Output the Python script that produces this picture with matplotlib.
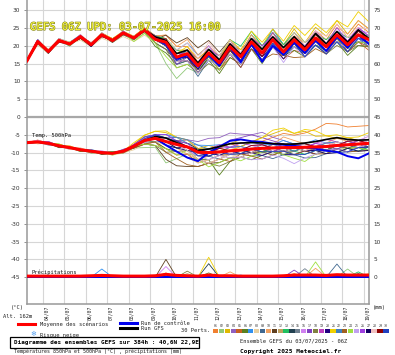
import matplotlib
matplotlib.use("Agg")
import matplotlib.pyplot as plt
import matplotlib.transforms as mtransforms
from matplotlib import patheffects as pe
from matplotlib.lines import Line2D
from matplotlib.patches import Rectangle

plt.rcParams['axes.unicode_minus'] = False

W, H = 395, 355

# ---------------- data (12-hourly steps from 03/07 06Z, 384 h) ----------------
HOURS = list(range(0, 385, 12))
DATES = ['04/07', '05/07', '06/07', '07/07', '08/07', '09/07', '10/07', '11/07',
         '12/07', '13/07', '14/07', '15/07', '16/07', '17/07', '18/07', '19/07']
DATE_HOURS = [18 + 24 * k for k in range(16)]

# Temperature 850 hPa (°C): ensemble mean
T850_MEAN = [15.8, 21.2, 18.4, 21.5, 20.5, 22.6, 20.3, 23.1, 21.5, 23.6, 22.2, 24.5,
             21.8, 21.0, 16.8, 17.8, 14.4,
             18.0, 15.2, 19.7, 16.9, 21.1, 18.0, 21.7, 18.3,
             21.7, 18.9, 22.2, 19.7, 23.1, 20.3, 23.1, 21.7]
T850_CTRL_DEV = [0, 0, 0, 0, 0, 0, 0, 0, 0, 0, 0, 0,
                 0.2, -0.5, -0.5, -0.5, -0.3,
                 -0.5, -0.7, -0.2, -1.5, -0.6, -2.5, -1.7, -0.8,
                 -0.7, -0.9, -0.7, -1.2, -0.6, -0.8, -0.1, -1.2]
T850_GFS_DEV = [0, 0, 0, 0, 0, 0, 0, 0, 0, 0, 0, 0,
                0.7, 0.5, 1, 1, 0.7,
                1, 0.8, 0.8, 0.6, 0.9, 1, 0.8, 1.2,
                0.8, 0.6, 1.3, 0.8, 0.9, 0.7, 1.4, 0.3]
T850_PERT_DEV = [
    [0, .5, 0, .5, 0, .5, 0, 0, .5, 0, .5, 0, 1, 2, 3, 2, 1, 1, 2, 1, 2, 1, 1, 2, 1, 2, 1, 2, 2, 3, 2, 3, 2],
    [0, -.5, 0, -.5, 0, 0, -.5, -.5, 0, -.5, -.5, -1, -1, -6, -6, -4, -2, -2, -1, -2, -1, -1, 0, -1, -1, -2, -1, -1, -2, -2, -1, -3, -2],
    [0, 0, .5, 0, .5, 0, .5, 0, 0, .5, 0, .5, 1, 1, 2, 1, 2, 1, 2, 2, 1, 2, 2, 3, 2, 3, 2, 3, 3, 4, 3, 4, 3],
    [0, -.5, 0, 0, -.5, 0, 0, -.5, 0, 0, -.5, 0, 0, -1, 0, -1, -2, -1, -2, -1, -2, -1, -1, 0, -1, 0, -1, -1, 0, -1, -2, -1, -2],
    [0, 0, 0, .5, 0, 0, .5, 0, 0, 0, .5, .5, 1, 1, 0, 0, -2, -1, -2, -3, -2, -2, -1, -1, -2, -3, -1, -2, -1, -1, -2, -2, -3],
    [0, -.5, -.5, 0, 0, -.5, 0, 0, -.5, 0, 0, -.5, -2, -3, -2, -2, -1, -2, -3, -3, -2, -2, -3, -2, -1, -3, -2, -2, -1, -2, -3, -3, -2],
    [0, .5, 0, 0, .5, .5, 0, .5, 0, .5, 0, 0, 1, 0, 2, 3, 3, 2, 1, 2, 1, 2, 1, 3, 2, 1, 1, 0, 1, 0, 1, -1, 0],
    [0, -1, -.5, -.5, 0, -1, -.5, -1, -.5, -1, -1, -1.5, -1, 0, -1, -2, -1, 0, -1, 0, 1, 0, 1, -1, -1, -2, 0, -1, 1, 0, 1, 0, 1],
    [0, 0, -.5, 0, -.5, 0, -.5, 0, -.5, -.5, -.5, 0, 0, -1, -2, -2, -3, -2, -1, -1, -2, -1, -2, -2, -1, -1, 0, -1, -1, 0, 1, 0, 0],
    [0, .5, .5, .5, 0, .5, 0, .5, .5, .5, 0, .5, 1, 2, 3, 4, 3, 2, 2, 1, 1, 2, 1, 1, 2, 1, 2, 2, 1, 2, 3, 4, 3],
    [0, -.5, 0, 0, 0, -.5, -.5, 0, 0, 0, 0, 0, 0, 2, 4, 4.5, 5, 3.5, 3, 2, 1, 0, -1, -1, -1, -2, -1, -1, 0, -1, 0, -2, -1],
    [0, 0, 0, -.5, 0, 0, 0, -.5, 0, 0, 0, -.5, 0, 0, 1, 1, 0, 1, 0, 1, 0, 1, 1, 0, 1, 0, -1, 0, 1, 1, 0, 1, 0],
    [0, .5, 0, .5, .5, 0, .5, 0, .5, 0, .5, 0, 1, 1, 2, 0, 1, 1, 2, 2, 3, 3, 2, 2, 2, 2, 2, 1, 2, 1, 2, 0, 1],
    [0, 0, 0, 0, -.5, 0, 0, 0, -.5, 0, 0, 0, -1, -2, -1, -1, -2, -1, 0, -1, -1, -2, -1, -1, 0, 0, 0, -1, -1, -2, -1, -1, 0],
    [0, -.5, 0, -.5, 0, -.5, 0, 0, 0, -.5, 0, -.5, 0, -1, 0, 1, 0, -1, 0, 0, -1, -1, 0, 0, 1, 1, 0, 0, 1, -1, -1, -1, 0],
    [0, .5, 0, 0, 0, .5, 0, .5, 0, 0, 0, .5, 0, 0, -1, 0, 1, 2, 1, 1, 0, 0, -1, -1, 0, 1, 1, 2, 1, 1, 0, 1, 2],
    [0, 0, .5, 0, 0, 0, .5, 0, 0, .5, 0, 0, 0, -1, -2, -1, -1, 0, -1, -2, -3, -2, -2, -1, -1, 0, -1, -2, -2, -1, -2, -2, -1],
    [0, -.5, 0, 0, 0, -.5, 0, -.5, 0, 0, -.5, 0, -1, -2, -3, -3, -2, -3, -2, -1, -1, 0, 0, 1, 0, -1, -1, -2, -2, -3, -2, -3, -2],
    [0, 0, 0, .5, 0, 0, 0, 0, .5, 0, 0, 0, 1, 0, 0, 1, 2, 1, 2, 0, 1, 1, 1, 2, 1, 0, -1, 0, 0, 1, 1, 2, 1],
    [0, 0, -.5, 0, 0, 0, -.5, 0, 0, 0, 0, 0, 0, -1, -1, -2, -1, -1, 0, -1, 0, -1, -1, -2, -2, -1, -2, -1, -1, 0, 0, -1, -1],
    [0, 0, .5, 0, .5, 0, .5, .5, .5, .5, .5, .5, 0, 1, 1, 2, 2, 1, 1, 2, 2, 3, 3, 3, 3, 4, 4, 4, 4, 4, 5, 6.5, 5],
    [0, .5, 0, 0, 0, 0, 0, .5, 0, 0, 0, 0, 0, 1, 0, 1, 0, 1, 1, 0, 0, 1, 0, -1, -1, -2, -1, -2, -1, -1, -2, -1, -2],
    [0, -.5, -.5, 0, 0, -.5, 0, 0, -.5, -.5, 0, 0, 0, -1, -1, -2, -1, -1, -2, -2, -3, -2, -2, -4, -1, -5, -2, -3, -2, -1, -2, -2, -2],
    [0, 0, 0, 0, -.5, 0, 0, 0, 0, 0, -1, -1, -1, -4, -3, -3, -1, -1, -2, -1, 0, 1, 1, 0, 1, 1, 0, 1, 0, -1, -1, -2, -1],
    [0, -.5, 0, -.5, 0, 0, 0, -.5, 0, 0, 0, 0, 0, 0, -1, -2, -2, -2, -1, -2, -2, -1, -2, -2, -3, -2, -2, -1, -1, -2, -1, -1, -1],
    [0, .5, 0, 0, 0, 0, 0, 0, 0, .5, 0, 0, 0, 0, 1, 0, -1, 0, 0, 1, 1, 1, 2, 1, 0, 0, 1, 1, 1, 2, 1, 2, 1],
    [0, 0, 0, 0, 0, 0, .5, 0, 0, 0, 0, 0, 0, 0, 0, -1, -1, 0, -1, 0, 0, 1, 0, 0, -1, -1, -1, 0, 0, 0, -1, 0, -1],
    [0, 0, .5, .5, .5, 0, .5, .5, 0, 0, .5, 0, 0, 1, 2, 3, 2, 3, 2, 2, 1, 1, 0, 1, 1, 2, 2, 2, 3, 3, 2, 2, 3],
    [0, -.5, 0, -.5, 0, -.5, 0, -.5, 0, 0, 0, -.5, 0, 1, 0, 0, 1, 0, -1, -1, -1, 0, -1, 0, 0, 1, 0, 1, 0, 0, 0, 1, 0],
    [0, 0, 0, 0, 0, 0, 0, 0, 0, 0, 0, 0, 0, -1, -1, 0, 0, -1, -1, 0, -1, -1, -2, -1, -1, -1, -2, -2, -2, -2, -2, -1, -1],
]

# Temperature 500 hPa (°C)
T500_MEAN = [-7.2, -7.0, -7.4, -8.1, -8.6, -9.2, -9.6, -10.0, -10.2, -9.6, -8.2, -6.6,
             -6.0, -6.9, -7.7, -8.4, -9.9,
             -10.0, -9.8, -9.5, -9.3, -9.0, -8.8, -8.7, -8.6,
             -8.6, -8.5, -8.4, -8.3, -8.0, -7.8, -7.6, -7.4]
T500_CTRL_DEV = [0, 0, 0, 0, 0, 0, 0, 0, 0, 0, 0, 0,
                 0, -1, -2, -3, -2.5,
                 0, 1.5, 2.8, 3, 2.2, 1.8, 1.2, 0.8,
                 0.5, 0, -0.5, -1.2, -1.8, -3.2, -4, -2.8]
T500_GFS_DEV = [0, 0, 0, 0, 0, 0, 0, 0, 0, 0, 0, 0,
                0.5, 1, 0.5, 0, 0.5,
                1, 1.5, 2, 2, 1.8, 1.5, 1.2, 1,
                1, 1.2, 1.5, 2, 2.2, 1.5, 1.1, 1]
T500_PERT_DEV = [
    [0, 0, .5, 0, 0, -.5, 0, 0, .5, 0, .5, 1, 1, 0, 1, 2, 1, 0, 1, 2, 1, 2, 2, 3, 4, 3.5, 4, 5, 6.5, 6, 5, 5, 5],
    [0, 0, 0, -.5, 0, 0, -.5, 0, 0, 0, -.5, -2, -2.5, -6, -4, -2, -1, 0, -1, -1, 0, -1, 0, -1, -1, 0, -1, -1, -2, -1, -1, 0, -1],
    [0, .5, 0, 0, .5, 0, 0, 0, 0, 0, .5, 1.5, 2, 2.5, 2, 1, 1, 2, 1, 2, 3, 2, 3, 4, 5, 4, 4.5, 3, 3, 2, 2, 1, 1],
    [0, 0, 0, 0, -.5, 0, 0, 0, 0, 0, 0, 1, 1, 2, 1, 2, 3, 4, 4, 5, 4.5, 4, 4.5, 3, 2, 1, 1, 0, 0, 1, 0, -1, 0],
    [0, -.5, 0, 0, 0, 0, 0, -.5, 0, 0, -.5, -1, -1, -2, -3, -2, -3, -2, -1, -1, 0, -1, -1, 0, 1, 0, -1, 0, 1, 0, 0, 1, 0],
    [0, 0, 0, 0, 0, -.5, 0, 0, 0, -.5, 0, 0, -1, -2, -2, -3, -2, -2, -6.5, -3, -2, -3, -2, -1, -2, -1, 0, -1, -1, 0, -1, -1, -2],
    [0, 0, .5, 0, 0, 0, .5, 0, 0, .5, 0, 1, 1, 2, 2, 1, 2, 2, 2, 1, 1, 2, 1, 1, 2, 1, 1, 2, 1, 1, 0, 1, 1],
    [0, -.5, 0, 0, -.5, 0, -.5, 0, -.5, -.5, -1, -1, -1, -1, -2, -3, -3, -2, -1, -2, -1, -1, -2, -1, 0, -1, -1, -1, 0, -1, -1, -1, 0],
    [0, 0, 0, 0, 0, 0, 0, 0, 0, 0, 0, 0, 0, 1, 0, 0, -1, -1, -2, -1, -1, -2, -2, -3, -2, -2, -3, -3, -2, -1, -2, -2, -1],
    [0, .5, 0, 0, 0, .5, 0, 0, 0, 0, 0, .5, 1, 0, -1, -2, -2, -1, 0, 1, 0, -1, -1, 1, 3, 2, 1, 0, 1, 2, 1, 0, 1],
    [0, 0, 0, -.5, 0, 0, 0, -.5, 0, 0, -.5, -1, -2, -5, -6, -5.5, -4, -3, -3, -2, -2, -1, -1, 0, 0, -1, 0, -1, -1, 0, -1, 0, -1],
    [0, 0, 0, 0, 0, 0, 0, 0, 0, 0, 0, 0, 1, 1, 0, -1, -2, -3, -2, -1, -1, -2, -1, -2, -1, -1, 0, -1, 0, 1, 0, 0, -1],
    [0, 0, 0, .5, 0, 0, 0, 0, .5, 0, 0, .5, 0, -1, -1, 0, 1, 1, 0, 0, -1, 0, -1, 0, 0, -1, -2, -1, -1, -2, -1, -2, -1],
    [0, 0, 0, 0, 0, 0, 0, 0, 0, 0, -.5, 0, 0, 0, 1, 1, 1, 0, 0, -1, 0, 0, -1, -1, 0, 1, 1, 0, -1, 0, 1, 0, 0],
    [0, 0, -.5, 0, 0, 0, 0, 0, 0, 0, 0, -.5, -1, 0, 0, -1, 0, 0, -1, 0, -1, 0, 1, 0, -1, -1, 0, 0, -1, -1, 0, -1, -2],
    [0, .5, 0, 0, 0, 0, 0, .5, 0, 0, 0, 0, 0, 1, 2, 2, 1, 1, 0, -1, 0, 1, 0, 1, 1, 0, 0, 1, 1, 0, 1, 1, 2],
    [0, 0, 0, 0, 0, 0, 0, 0, 0, 0, .5, 1, 1, 1, 0, -1, -1, 0, 1, 3, 3.5, 4, 3, 2, 1, 0, -1, -1, 0, -1, 0, 0, -1],
    [0, 0, 0, 0, 0, 0, -.5, 0, 0, 0, 0, -1, -2, -3, -2, -1, -2, -3, -4, -3, -2, -1, -1, -2, -1, 0, -1, -2, -1, 0, -1, -1, -1],
    [0, 0, .5, 0, 0, 0, 0, 0, 0, .5, 0, 0, 1, 0, 1, 0, 0, 1, 2, 1, 1, 0, 0, -1, 0, 1, 0, 1, 2, 1, 0, 1, 0],
    [0, 0, 0, 0, 0, 0, 0, 0, 0, 0, 0, 0, 0, -1, -1, 0, 1, 0, -1, 0, -1, -1, -2, -1, -2, -2, -1, -2, -1, -1, -2, -1, -1],
    [0, 0, 0, .5, 0, 0, 0, 0, 0, 0, 1, 1.5, 2, 3, 2, 2, 1, 1, 1, 0, 1, 2, 3, 5, 5.5, 4, 5, 4.5, 3, 3, 2, 2, 3],
    [0, 0, 0, 0, 0, 0, 0, 0, 0, 0, 0, 0, 1, 1, 2, 2, 2, 1, 0, 1, 1, 0, 0, 1, 0, -1, 0, 0, 1, 1, 0, 0, 1],
    [0, 0, 0, 0, 0, 0, 0, 0, 0, -.5, -.5, -1, -1, -3, -4, -5, -4, -3, -2, -3, -1, -2, -3, -2, -1, -2, -1, -2, -2, -1, -2, -2, -2],
    [0, 0, 0, 0, 0, 0, 0, 0, -.5, 0, 0, -1, -2, -2, -3, -1, -2, -4, -3, -2, -3, -2, -1, -1, -2, -3, -4, -2, -1, -2, -1, -1, -2],
    [0, 0, 0, 0, 0, 0, 0, 0, 0, 0, 0, -.5, 0, -1, 0, -1, -1, -2, -1, -2, -2, -3, -3, -2, -3, -4.5, -3, -2, -1, -1, -2, -1, 0],
    [0, 0, 0, 0, 0, 0, 0, 0, 0, 0, .5, .5, 1, 2, 1, 1, 0, 0, 1, 1, 2, 1, 1, 0, 1, 0, 0, 1, 0, 0, 1, 0, 1],
    [0, 0, 0, 0, 0, 0, 0, 0, 0, 0, 0, 0, 0, 0, -1, -1, 0, -1, 0, 0, 0, -1, 0, -1, -1, 0, -1, -1, -2, -2, -1, -2, -2],
    [0, 0, 0, 0, 0, 0, 0, 0, 0, 0, 0, .5, 0, 1, 0, -1, -2, -3, -2, -1, -2, -1, 0, -1, -1, 0, -1, 0, 0, 1, 0, 0, 1],
    [0, 0, 0, 0, 0, 0, 0, 0, 0, 0, 0, 0, 0, 0, 1, 0, 0, 0, 1, 0, 0, 1, 1, 0, 0, 1, 1, 0, 0, 0, 1, 1, 0],
    [0, 0, 0, 0, 0, 0, 0, 0, 0, 0, 0, .5, 1, 1, 1, 0, -1, -1, 0, -1, -1, 0, -1, -1, -1, -2, -2, -1, -1, -2, -2, -1, -1],
]

# Precipitation (mm)
PRECIP_MEAN = [0.3, 0.3, 0.3, 0.3, 0.3, 0.3, 0.4, 0.5, 0.4, 0.3, 0.3, 0.3,
               0.4, 0.8, 0.5, 0.4, 0.3,
               0.6, 0.4, 0.4, 0.3, 0.3, 0.3, 0.3, 0.4,
               0.6, 0.6, 0.6, 0.5, 0.7, 0.6, 0.6, 0.6]
PRECIP_CTRL = [0] * 33
# (member number, 12-h step, mm) for non-zero member precipitation
PRECIP_PERT_EVENTS = [(7, 7, 2.3), (28, 7, 0.8), (11, 13, 5.0), (16, 13, 3.0), (1, 13, 1.2),
                      (19, 13, 0.8), (18, 15, 1.7), (12, 15, 1.0), (21, 17, 5.6), (14, 17, 3.8),
                      (6, 17, 1.2), (10, 19, 1.5), (7, 20, 0.6), (9, 22, 0.5), (17, 25, 2.0),
                      (1, 25, 1.0), (15, 26, 2.4), (24, 27, 4.3), (10, 27, 2.5), (9, 29, 3.7),
                      (2, 30, 2.3), (13, 31, 1.5), (14, 31, 1.0), (24, 32, 1.0)]

PERT_COLORS = ['#f08030', '#90c878', '#e0b800', '#9060c0', '#c86020', '#5a8020',
               '#3090f0', '#e8d0a0', '#406890', '#f0a060', '#604020', '#c0a060',
               '#20c060', '#204050', '#708090', '#d080f0', '#8040c0', '#808040',
               '#c040c0', '#200080', '#f0d000', '#4080c0', '#a06020', '#a0e040',
               '#c0a0f0', '#a040e0', '#100060', '#f0c0c0', '#900000', '#2040c0']

# ---------------- figure ----------------
fig = plt.figure(figsize=(W / 100, H / 100), dpi=100)
fig.patch.set_facecolor('white')


def P(x, y):
    return (x / W, 1 - y / H)


YTOP = 117 / 3.56
YBOT = -187 / 3.56
ax = fig.add_axes([27 / W, 51 / H, 342 / W, 304 / H])
ax.set_xlim(0, 384)
ax.set_ylim(YBOT, YTOP)
ax2 = ax.twinx()
ax2.set_ylim(YBOT + 45, YTOP + 45)

ax.set_yticks(list(range(-45, 31, 5)))
ax.set_xticks(DATE_HOURS)
ax.set_xticklabels([])
ax.grid(True, color='#d6d6d6', lw=0.8, zorder=0)
ax.set_axisbelow(True)
ax.axhline(0, color='#a8a8a8', lw=1.6, zorder=1)
ax.tick_params(axis='y', left=True, length=2.2, width=0.6, color='#808080',
               labelsize=4.2, labelcolor='#333333', pad=2.5)
ax.tick_params(axis='x', length=0)
for s in ['left', 'right', 'bottom']:
    ax.spines[s].set_color('#999999')
    ax.spines[s].set_linewidth(1.1)
ax.spines['top'].set_visible(False)

ax2.set_yticks(list(range(0, 76, 5)))
ax2.tick_params(axis='y', right=True, length=0, labelsize=4.2, labelcolor='#333333', pad=3.5)
for s in ax2.spines.values():
    s.set_visible(False)

# 850 hPa members
for dev, col in zip(T850_PERT_DEV, PERT_COLORS):
    ax.plot(HOURS, [m + d for m, d in zip(T850_MEAN, dev)], color=col, lw=0.6, zorder=2)
ax.plot(HOURS, [m + d for m, d in zip(T850_MEAN, T850_CTRL_DEV)], color='#0000ee', lw=1.4, zorder=3)
ax.plot(HOURS, [m + d for m, d in zip(T850_MEAN, T850_GFS_DEV)], color='black', lw=1.2, zorder=3)
ax.plot(HOURS, T850_MEAN, color='#ff0000', lw=2.2, zorder=4)

# 500 hPa members
for dev, col in zip(T500_PERT_DEV, PERT_COLORS):
    ax.plot(HOURS, [m + d for m, d in zip(T500_MEAN, dev)], color=col, lw=0.6, zorder=2)
ax.plot(HOURS, [m + d for m, d in zip(T500_MEAN, T500_CTRL_DEV)], color='#0000ee', lw=1.4, zorder=3)
ax.plot(HOURS, [m + d for m, d in zip(T500_MEAN, T500_GFS_DEV)], color='black', lw=1.2, zorder=3)
ax.plot(HOURS, T500_MEAN, color='#ff0000', lw=2.2, zorder=4)

# precipitation members (on the mm scale)
precip_members = [[0.0] * len(HOURS) for _ in range(30)]
for mem, step, mm in PRECIP_PERT_EVENTS:
    precip_members[mem - 1][step] = mm
for vals, col in zip(precip_members, PERT_COLORS):
    ax2.plot(HOURS, vals, color=col, lw=0.6, zorder=2)
ax2.plot(HOURS, PRECIP_CTRL, color='#0000ee', lw=1.4, zorder=3)
ax2.plot(HOURS, PRECIP_MEAN, color='#ff0000', lw=2.2, zorder=4)

mono = 'DejaVu Sans Mono'

# date labels
trans = mtransforms.blended_transform_factory(ax.transData, ax.transAxes) + \
    mtransforms.ScaledTranslation(3.5 / 100, -1.5 / 100, fig.dpi_scale_trans)
for h, lab in zip(DATE_HOURS, DATES):
    ax.text(h, 0, lab, transform=trans, rotation=90, ha='center', va='top',
            fontsize=3.4, family=mono, color='#222222')

# in-plot labels
fig.text(*P(30, 27), 'GEFS 06Z UPD: 03-07-2025 16:00', fontsize=7.6, family=mono,
         color='#ffff40', ha='left', va='center',
         path_effects=[pe.Stroke(linewidth=0.9, foreground='#8a8a20'), pe.Normal()])
fig.text(*P(32, 136), 'Temp. 500hPa', fontsize=3.9, family=mono, color='#111111', ha='left', va='center')
fig.text(*P(32, 272), 'Précipitations', fontsize=3.9, family=mono, color='#111111', ha='left', va='center')

# axis unit labels
fig.text(*P(11, 307), '(°C)', fontsize=3.9, family=mono, color='#222222', ha='left', va='center')
fig.text(*P(3, 316), 'Alt. 162m', fontsize=3.9, family=mono, color='#222222', ha='left', va='center')
fig.text(*P(373, 308), '(mm)', fontsize=3.9, family=mono, color='#222222', ha='left', va='center')

# legend
fig.add_artist(Line2D([18 / W, 35 / W], [1 - 323.5 / H, 1 - 323.5 / H], color='#ff0000', lw=2.2))
fig.text(*P(40, 324), 'Moyenne des scénarios', fontsize=3.9, family=mono, color='#222222', ha='left', va='center')
fig.text(*P(33, 334), '❄', fontsize=5, color='#55a0f0', ha='center', va='center')
fig.text(*P(40, 335), 'Risque neige', fontsize=3.9, family=mono, color='#222222', ha='left', va='center')
fig.add_artist(Line2D([120 / W, 137 / W], [1 - 323 / H, 1 - 323 / H], color='#0000ee', lw=2.2))
fig.add_artist(Line2D([120 / W, 137 / W], [1 - 328 / H, 1 - 328 / H], color='black', lw=2.2))
fig.text(*P(141, 323.5), 'Run de contrôle', fontsize=3.9, family=mono, color='#222222', ha='left', va='center')
fig.text(*P(141, 328.5), 'Run GFS', fontsize=3.9, family=mono, color='#222222', ha='left', va='center')
fig.text(*P(181, 331), '30 Perts.', fontsize=3.9, family=mono, color='#222222', ha='left', va='center')

chip_w = 5.87
for i, col in enumerate(PERT_COLORS):
    x0 = 213 + i * chip_w
    fig.add_artist(Rectangle((x0 / W, 1 - 333 / H), (chip_w - 0.6) / W, 3.6 / H,
                             transform=fig.transFigure, facecolor=col, edgecolor='none'))
    fig.text((x0 + chip_w / 2) / W, 1 - 326 / H, '%02d' % (i + 1), fontsize=2.3, family=mono,
             color='#333333', ha='center', va='center')

# info box
fig.add_artist(Rectangle((10 / W, 1 - 348 / H), 189 / W, 11 / H, transform=fig.transFigure,
                         facecolor='white', edgecolor='black', lw=0.9))
fig.text(*P(14, 342.5), 'Diagramme des ensembles GEFS sur 384h : 40,6N 22,9E', fontsize=4.3,
         family=mono, weight='bold', color='black', ha='left', va='center')
fig.text(*P(14, 351.5), 'Températures 850hPa et 500hPa (°C) , précipitations (mm)', fontsize=3.6,
         family=mono, color='#222222', ha='left', va='center')
fig.text(*P(240, 341), 'Ensemble GEFS du 03/07/2025 - 06Z', fontsize=3.9, family=mono,
         color='#222222', ha='left', va='center')
fig.text(*P(240, 351), 'Copyright 2025 Meteociel.fr', fontsize=4.4, family=mono, weight='bold',
         color='black', ha='left', va='center')

fig.savefig('out.png', dpi=100)
